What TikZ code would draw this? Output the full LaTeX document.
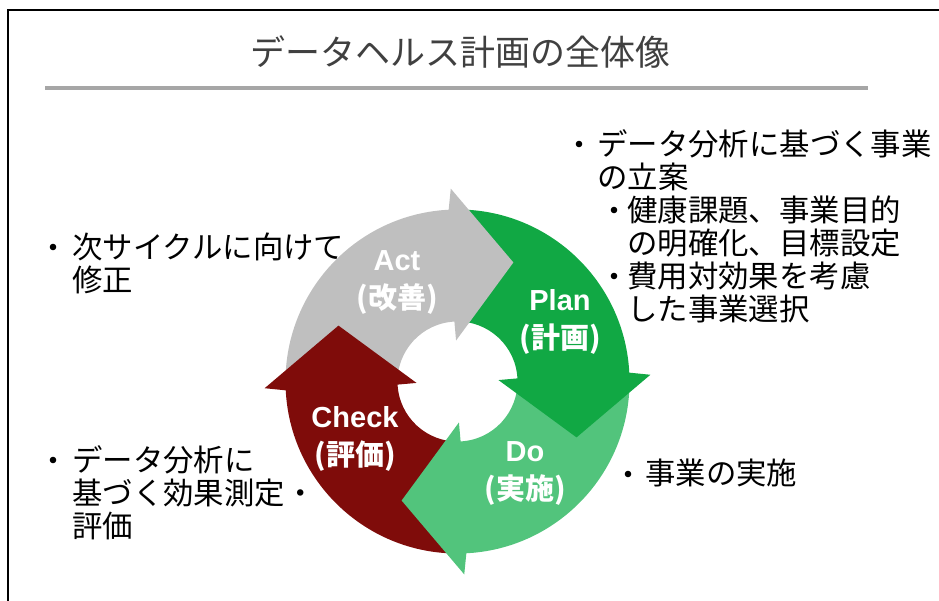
\documentclass[tikz,border=0pt]{standalone}
\usepackage{fontspec}
\setmainfont{Liberation Sans}
\newfontfamily\jp{Noto Sans CJK JP}
\definecolor{actc}{HTML}{BFBFBF}
\definecolor{planc}{HTML}{11A844}
\definecolor{doc}{HTML}{52C47C}
\definecolor{checkc}{HTML}{7F0C0A}
\definecolor{titlec}{HTML}{404040}
\definecolor{rulec}{HTML}{A6A6A6}
\begin{document}
\begin{tikzpicture}[x=1pt,y=1pt,
  titletext/.style={inner sep=0pt, text=titlec, font=\jp\fontsize{35}{40}\selectfont},
  bodytext/.style={inner sep=0pt, anchor=base west, text=black, font=\jp\fontsize{30.4}{33}\selectfont},
  cyclelabel/.style={inner sep=0pt, align=center, text=white, font=\bfseries\fontsize{29}{38}\selectfont},
  bulletdot/.style={fill=black}
]
\useasboundingbox (0,0) rectangle (939,600);
% frame
\draw[line width=2.5pt, line join=miter] (8,-5) -- (8,590) -- (945,590);
% title and rule
\node[titletext] (title) at (460,548) {データヘルス計画の全体像};
\draw[rulec, line width=4pt] (45,512) -- (868,512);
% cycle ring
\begin{scope}[shift={(457.5,218.5)}]
  % bodies
  \fill[actc] (182:172) arc[start angle=182,end angle=92,radius=172] -- (92:60) arc[start angle=92,end angle=182,radius=60] -- cycle;
  \fill[planc] (92:172) arc[start angle=92,end angle=2,radius=172] -- (2:60) arc[start angle=2,end angle=92,radius=60] -- cycle;
  \fill[doc] (2:172) arc[start angle=2,end angle=-88,radius=172] -- (-88:60) arc[start angle=-88,end angle=2,radius=60] -- cycle;
  \fill[checkc] (-88:172) arc[start angle=-88,end angle=-178,radius=172] -- (-178:60) arc[start angle=-178,end angle=-88,radius=60] -- cycle;
  % heads (each slightly overlapping its own body to hide seams)
  \fill[actc] (92:41) -- (64.85:131.5) -- (92:193) -- (93:171) -- (93:61) -- cycle;
  \fill[planc] (2:41) -- (-25.15:131.5) -- (2:193) -- (3:171) -- (3:61) -- cycle;
  \fill[doc] (-88:41) -- (-115.15:131.5) -- (-88:193) -- (-87:171) -- (-87:61) -- cycle;
  \fill[checkc] (182:41) -- (154.85:131.5) -- (182:193) -- (183:171) -- (183:61) -- cycle;
\end{scope}
% cycle labels
\node[cyclelabel] (act) at (397,318) {Act\\{\jp (改善)}};
\node[cyclelabel] (plan) at (560,278.5) {Plan\\{\jp (計画)}};
\node[cyclelabel] (check) at (355,161) {Check\\{\jp (評価)}};
\node[cyclelabel] (do) at (525,126.5) {Do\\{\jp (実施)}};
% right upper block
\fill[bulletdot] (579,456) circle[radius=3.3];
\node[bodytext] (r1) at (597,444.6) {データ分析に基づく事業};
\node[bodytext] (r2) at (597,411.6) {の立案};
\fill[bulletdot] (614,390) circle[radius=3.3];
\node[bodytext] (r3) at (627,378.6) {健康課題、事業目的};
\node[bodytext] (r4) at (627,345.6) {の明確化、目標設定};
\fill[bulletdot] (614,324) circle[radius=3.3];
\node[bodytext] (r5) at (627,312.6) {費用対効果を考慮};
\node[bodytext] (r6) at (627,279.6) {した事業選択};
% right lower
\fill[bulletdot] (628,126) circle[radius=3.3];
\node[bodytext] (d1) at (645,115.6) {事業の実施};
% left upper
\fill[bulletdot] (53,353) circle[radius=3.3];
\node[bodytext] (a1) at (72,341.6) {次サイクルに向けて};
\node[bodytext] (a2) at (72,308.6) {修正};
% left lower
\fill[bulletdot] (53,140) circle[radius=3.3];
\node[bodytext] (c1) at (72,128.6) {データ分析に};
\node[bodytext] (c2) at (72,95.6) {基づく効果測定・};
\node[bodytext] (c3) at (72,62.6) {評価};
\end{tikzpicture}
\end{document}
